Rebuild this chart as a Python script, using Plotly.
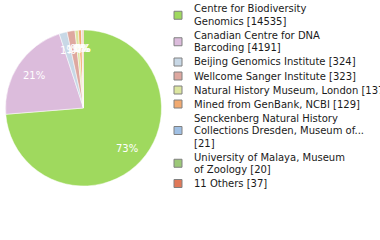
import math
import plotly.graph_objects as go

labels = ["Centre for Biodiversity Genomics", "Canadian Centre for DNA Barcoding",
          "Beijing Genomics Institute", "Wellcome Sanger Institute",
          "Natural History Museum, London", "Mined from GenBank, NCBI",
          "Senckenberg Natural History Collections Dresden, Museum of...",
          "University of Malaya, Museum of Zoology", "11 Others"]
legend_names = ["Centre for Biodiversity|Genomics", "Canadian Centre for DNA|Barcoding",
                "Beijing Genomics Institute", "Wellcome Sanger Institute",
                "Natural History Museum, London", "Mined from GenBank, NCBI",
                "Senckenberg Natural History|Collections Dresden, Museum of...|",
                "University of Malaya, Museum|of Zoology", "11 Others"]
values = [14535, 4191, 324, 323, 137, 129, 21, 20, 37]
colors = ["#9fd95e", "#dcbcdc", "#c8d8e6", "#dea8a0", "#dce6a0",
          "#f2aa70", "#a0c0e4", "#9cc878", "#e07858"]

W, H = 380, 240
PX0, PX1, PY0, PY1 = 5, 162, 30, 186          # pie box in pixels
total = sum(values)
pct_text = [f"{math.floor(100 * v / total)}%" for v in values]

fig = go.Figure(go.Pie(
    labels=labels, values=values, textinfo="none",
    marker=dict(colors=colors, line=dict(color="white", width=0.5)),
    sort=False, direction="clockwise", rotation=0, showlegend=False,
    domain=dict(x=[PX0 / W, PX1 / W], y=[(H - PY1) / H, (H - PY0) / H]),
))

annotations, shapes = [], []

# percentage labels placed at each slice's mid-angle
cx, cy0 = (PX0 + PX1) / 2, (PY0 + PY1) / 2
R = min(PX1 - PX0, PY1 - PY0) / 2
cum = 0.0
for v, t in zip(values, pct_text):
    mid = 2 * math.pi * (cum + v / 2) / total
    cum += v
    r = 0.76 * R
    px = cx + r * math.sin(mid)
    py = cy0 - r * math.cos(mid)
    annotations.append(dict(x=px / W, y=1 - py / H, xref="paper", yref="paper",
                            text=t, showarrow=False, xanchor="center", yanchor="middle",
                            font=dict(family="DejaVu Sans", size=10, color="white")))

# legend drawn from the same arrays
line_pitch, item_gap, y = 12.5, 14.0, 9.0
for name, v, c in zip(legend_names, values, colors):
    txt = name + ("" if name.endswith("|") else " ") + f"[{v}]"
    lines = txt.split("|")
    ys = [y + i * line_pitch for i in range(len(lines))]
    for ln, ly in zip(lines, ys):
        annotations.append(dict(x=192 / W, y=1 - ly / H, xref="paper", yref="paper",
                                text=ln, showarrow=False, xanchor="left", yanchor="middle",
                                font=dict(family="DejaVu Sans", size=10, color="#1a1a1a")))
    cyl = (ys[0] + ys[-1]) / 2
    shapes.append(dict(type="rect", xref="paper", yref="paper",
                       x0=174 / W, x1=182 / W, y0=1 - (cyl - 4) / H, y1=1 - (cyl + 4) / H,
                       fillcolor=c, line=dict(color="#808080", width=1)))
    y = ys[-1] + item_gap

fig.update_layout(width=W, height=H, margin=dict(l=0, r=0, t=0, b=0),
                  paper_bgcolor="white", plot_bgcolor="white",
                  annotations=annotations, shapes=shapes)
fig.write_html("out.html")
